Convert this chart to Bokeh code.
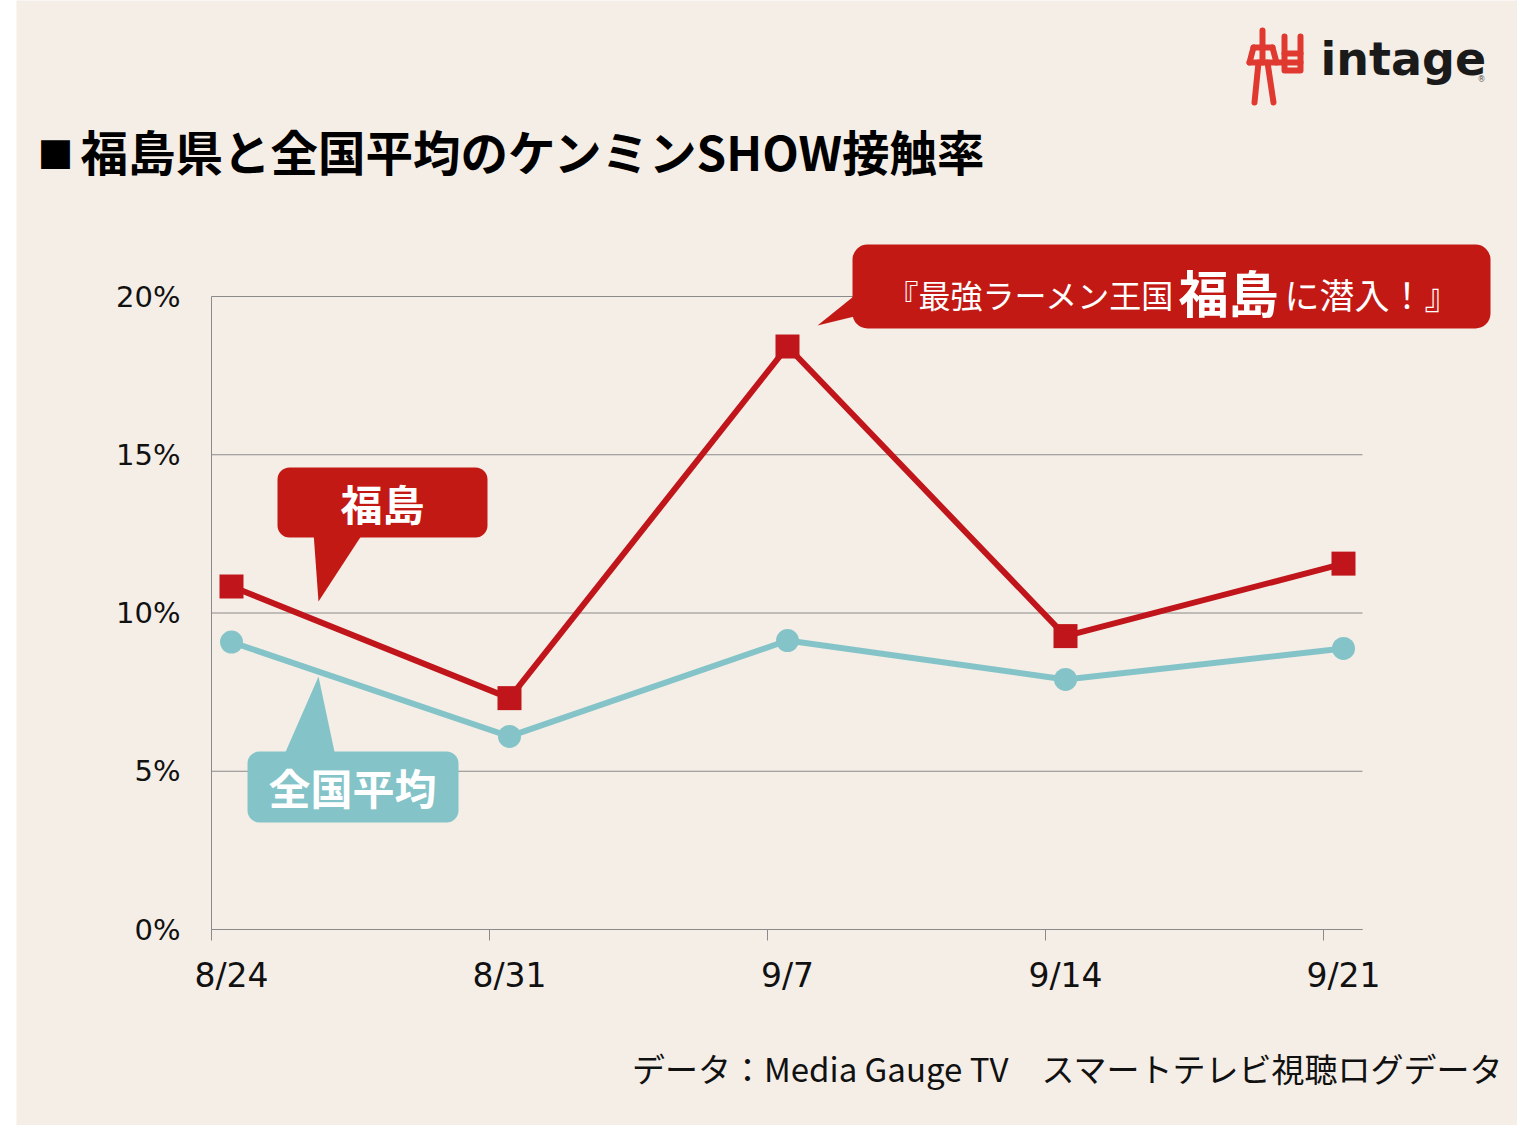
from bokeh.plotting import figure
from bokeh.models import Range1d, LinearAxis, FixedTicker, Spacer
from bokeh.layouts import row
from bokeh.core.properties import value
from bokeh.embed import file_html
from bokeh.resources import INLINE

# ---------------- data ----------------
dates = ["8/24", "8/31", "9/7", "9/14", "9/21"]
fukushima = [10.84, 7.31, 18.42, 9.27, 11.56]      # 福島 (%)
national = [9.08, 6.10, 9.13, 7.90, 8.88]          # 全国平均 (%)
y_ticks = [0, 5, 10, 15, 20]
y_tick_labels = ["0%", "5%", "10%", "15%", "20%"]

title_mark = "■"
title_text = "福島県と全国平均のケンミンSHOW接触率"
source_text = "データ：Media Gauge TV\u3000スマートテレビ視聴ログデータ"

# ---------------- style ----------------
BG = "#F5EEE7"
RED_LINE = "#C0161B"
RED_BOX = "#C31915"
TEAL = "#84C4C8"
GRID = "#8A8A8A"
TXT = "#111111"
JP = "Noto Sans CJK JP"
NUM = "DejaVu Sans"

W = 1501            # figure width (page x 16 .. 1517)
LEFT = 16
PAGE_H = 1125

# page pixel -> data helpers
X0, DXP = 231.0, 278.0         # category 0 position, px per category
Y0, DYP = 929.0, 31.65         # 0% position, px per percent
def dx(px):
    return (px - X0) / DXP
def dy(py):
    return (Y0 - py) / DYP

x_lo, x_hi = dx(211), dx(1362)   # extent of axis / grid
tick_shift = dx(211)              # tick marks sit between categories
xs = list(range(len(dates)))

p = figure(width=W, height=PAGE_H,
           x_range=Range1d(dx(LEFT), dx(LEFT + W)), y_range=Range1d(dy(PAGE_H), dy(0)),
           output_backend="svg", toolbar_location=None,
           x_axis_location=None, y_axis_location=None,
           min_border=0, background_fill_color=BG, border_fill_color=BG,
           outline_line_color=None)
p.xgrid.visible = False
p.ygrid.visible = False

xaxis = LinearAxis(ticker=FixedTicker(ticks=xs, minor_ticks=[i + tick_shift for i in xs]),
                   major_label_overrides={i: d for i, d in enumerate(dates)},
                   bounds=(x_lo, x_hi), fixed_location=0)
xaxis.axis_line_color = GRID
xaxis.axis_line_width = 1
xaxis.major_tick_out = 0
xaxis.major_tick_in = 0
xaxis.minor_tick_out = 11
xaxis.minor_tick_in = 0
xaxis.minor_tick_line_color = GRID
xaxis.major_label_standoff = 15
xaxis.major_label_text_font = NUM
xaxis.major_label_text_font_size = "33px"
xaxis.major_label_text_color = TXT
p.add_layout(xaxis, "below")

yaxis = LinearAxis(ticker=FixedTicker(ticks=y_ticks),
                   major_label_overrides={t: l for t, l in zip(y_ticks, y_tick_labels)},
                   bounds=(0, 20), fixed_location=x_lo)
yaxis.axis_line_color = GRID
yaxis.major_tick_out = 0
yaxis.major_tick_in = 0
yaxis.minor_tick_line_color = None
yaxis.major_label_standoff = 31
yaxis.major_label_text_font = NUM
yaxis.major_label_text_font_size = "29px"
yaxis.major_label_text_color = TXT
p.add_layout(yaxis, "left")

# horizontal grid lines limited to the plot box
p.segment(x0=[x_lo] * len(y_ticks), x1=[x_hi] * len(y_ticks), y0=y_ticks, y1=y_ticks,
          line_color=GRID, line_width=1)

# series
p.line(xs, national, line_color=TEAL, line_width=6)
p.scatter(xs, national, marker="circle", size=23, fill_color=TEAL, line_color=None)
p.line(xs, fukushima, line_color=RED_LINE, line_width=6)
p.scatter(xs, fukushima, marker="square", size=24, fill_color=RED_LINE, line_color=None)

# callout: 福島
p.quad(left=dx(277), right=dx(487), top=dy(467), bottom=dy(537),
       fill_color=RED_BOX, line_color=None, border_radius=12)
p.patch([dx(313), dx(318), dx(363)], [dy(532), dy(601), dy(532)],
        fill_color=RED_BOX, line_color=None)
p.text(x=[dx(382)], y=[dy(502)], text=["福島"], text_font=value(JP),
       text_font_style="bold", text_font_size="42px", text_color="white",
       text_align="center", text_baseline="middle")
# callout: 全国平均
p.quad(left=dx(247), right=dx(458), top=dy(751), bottom=dy(822),
       fill_color=TEAL, line_color=None, border_radius=12)
p.patch([dx(283), dx(318), dx(335)], [dy(756), dy(676), dy(756)],
        fill_color=TEAL, line_color=None)
p.text(x=[dx(352)], y=[dy(786)], text=["全国平均"], text_font=value(JP),
       text_font_style="bold", text_font_size="42px", text_color="white",
       text_align="center", text_baseline="middle")
# callout: 最強ラーメン王国福島に潜入！
p.quad(left=dx(852), right=dx(1490), top=dy(244), bottom=dy(328),
       fill_color=RED_BOX, line_color=None, border_radius=15)
p.patch([dx(858), dx(817), dx(858)], [dy(292), dy(325), dy(315)],
        fill_color=RED_BOX, line_color=None)
p.text(x=[dx(886)], y=[dy(293)], text=["『最強ラーメン王国"], text_font=value(JP),
       text_font_size="32px", text_color="white", text_align="left", text_baseline="middle")
p.text(x=[dx(1178)], y=[dy(290)], text=["福島"], text_font=value(JP), text_font_style="bold",
       text_font_size="50px", text_color="white", text_align="left", text_baseline="middle")
p.text(x=[dx(1284)], y=[dy(293)], text=["に潜入！』"], text_font=value(JP),
       text_font_size="35px", text_color="white", text_align="left", text_baseline="middle")

# title
p.text(x=[dx(37)], y=[dy(152)], text=[title_mark], text_font=value(JP),
       text_font_size="36px", text_color="black", text_align="left", text_baseline="middle")
p.text(x=[dx(80)], y=[dy(150)], text=[title_text], text_font=value(JP),
       text_font_style="bold", text_font_size="47.5px", text_color="black",
       text_align="left", text_baseline="middle")

# logo
p.multi_line(
    xs=[[dx(v) for v in seg] for seg in
        [[1262, 1262], [1253, 1272], [1253, 1249], [1272, 1276], [1249, 1300],
         [1258, 1254], [1267, 1273], [1284, 1284, 1300, 1300], [1284, 1300]]],
    ys=[[dy(v) for v in seg] for seg in
        [[30, 62], [47, 47], [47, 62], [47, 62], [62, 62],
         [62, 102], [62, 102], [36, 70, 70, 36], [53, 53]]],
    line_color="#E03A30", line_width=6, line_cap="round", line_join="round")
p.text(x=[dx(1320)], y=[dy(58)], text=["intage"], text_font=value("DejaVu Sans"),
       text_font_style="bold", text_font_size="46px", text_color="#1A1A1A",
       text_align="left", text_baseline="middle")
p.text(x=[dx(1481)], y=[dy(79)], text=["®"], text_font=value("DejaVu Sans"),
       text_font_size="8px", text_color="#555555", text_align="center",
       text_baseline="middle")

# source
p.text(x=[dx(1503)], y=[dy(1067)], text=[source_text], text_font=value(JP),
       text_font_size="33px", text_color=TXT, text_align="right", text_baseline="middle")

layout = row(Spacer(width=LEFT, height=PAGE_H), p)
open("out.html", "w").write(file_html(layout, INLINE))
